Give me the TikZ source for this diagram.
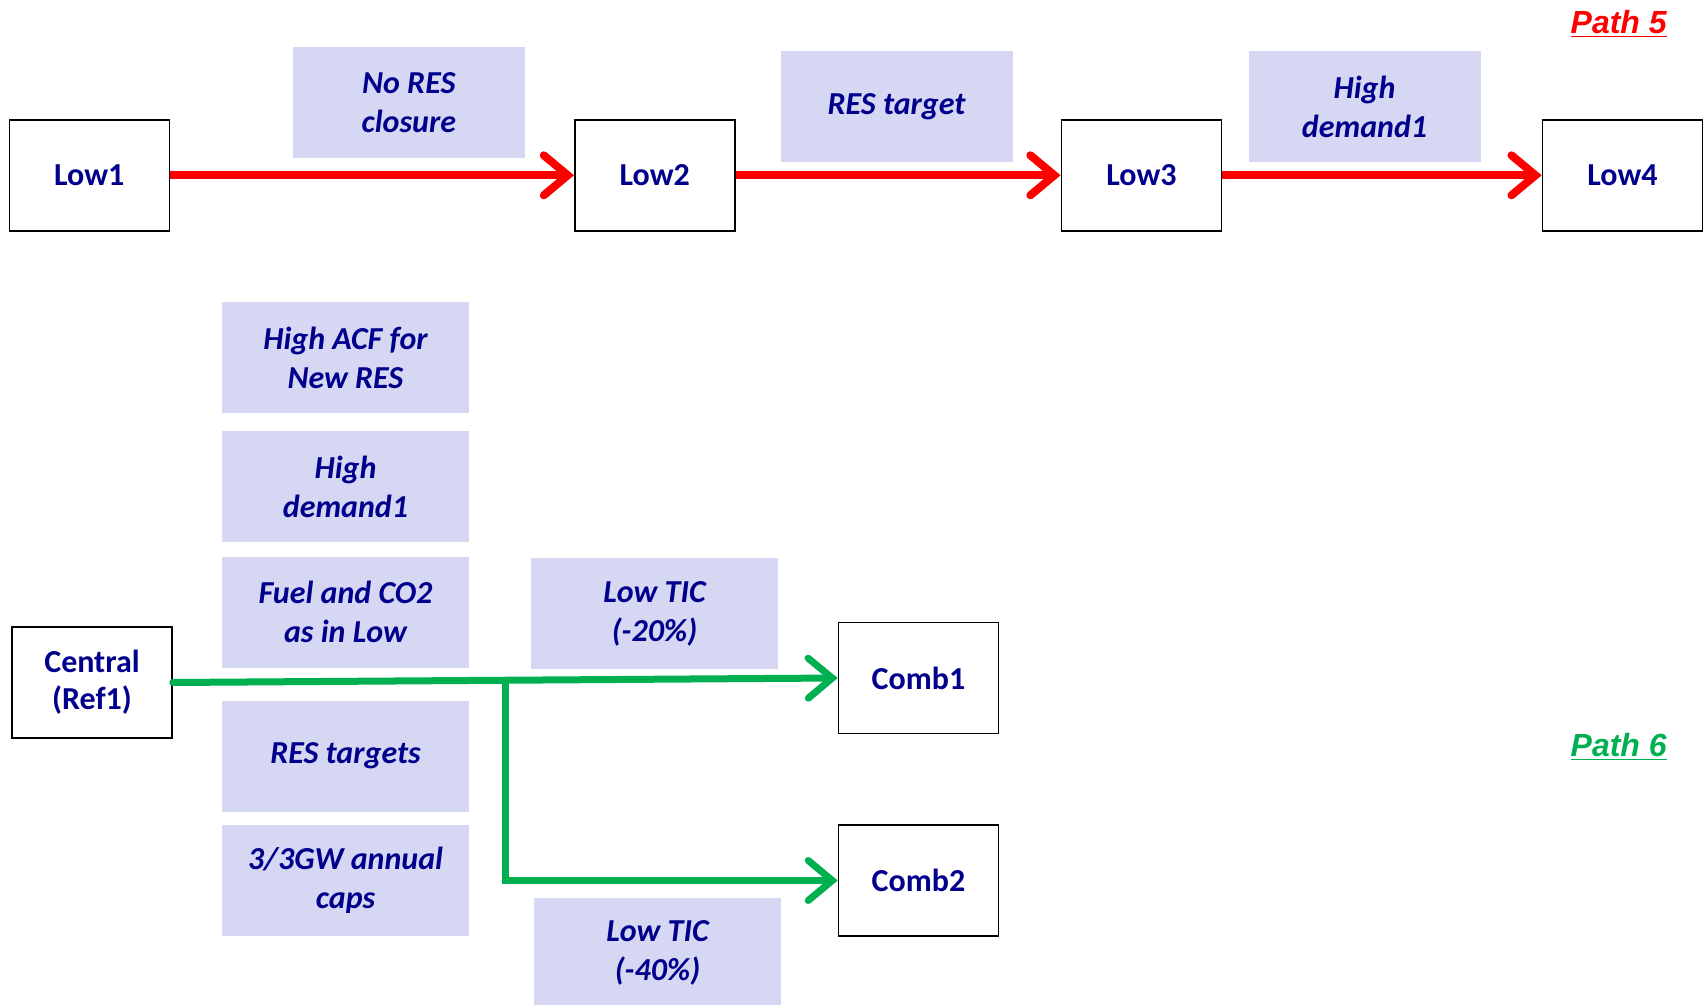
\documentclass[tikz,border=0pt]{standalone}
\usepackage{fontspec}
\setmainfont{Carlito}
\newfontfamily\pathfont{Liberation Sans}
\usepackage{xcolor}
\usepackage{tikz}
\usetikzlibrary{arrows.meta}

\definecolor{navytext}{RGB}{0,0,140}
\definecolor{lavender}{RGB}{214,216,243}
\definecolor{pathred}{RGB}{255,0,0}
\definecolor{pathgreen}{RGB}{0,176,80}

\tikzset{
  scenario/.style={draw=black, line width=0.8pt, fill=white, minimum width=80pt,
    minimum height=55.5pt, align=center, text=navytext,
    font=\fontsize{16}{18.5}\selectfont\bfseries},
  change/.style={fill=lavender, minimum width=116pt, minimum height=55.5pt,
    align=center, text=navytext, font=\fontsize{16}{19.5}\selectfont\bfseries\itshape},
  wide change/.style={change, minimum width=123.5pt},
  redpath/.style={pathred, line width=4pt,
    -{Straight Barb[length=12pt,width=20pt,line cap=round]}},
  greenpath/.style={pathgreen, line width=3.5pt, line cap=round,
    -{Straight Barb[length=12pt,width=20pt,line cap=round]}},
  pathlabel/.style={font=\pathfont\fontsize{16}{18}\selectfont\bfseries\itshape},
}

\begin{document}
\begin{tikzpicture}[x=0.5pt, y=-0.5pt]
   \useasboundingbox (0,0) rectangle (1707,1005);

   % Path 5: the Low chain
   \node[scenario] (low1) at (89.3,175.3) {Low1};
   \node[scenario] (low2) at (654.8,175.3) {Low2};
   \node[scenario] (low3) at (1141.4,175.3) {Low3};
   \node[scenario] (low4) at (1622.5,175.3) {Low4};

   \node[change] (noresclosure) at (408.8,102.3) {No RES\\closure};
   \node[change] (restarget) at (896.5,106.7) {RES target};
   \node[change] (highdemandtop) at (1364.5,106.7) {High\\demand1};

   \draw[redpath] (low1) -- (low2);
   \draw[redpath] (low2) -- (low3);
   \draw[redpath] (low3) -- (low4);

   \node[pathlabel, text=pathred] (pathfive) at (1618.7,24) {\underline{Path 5}};

   % Path 6: combined cases from Central
   \node[wide change] (highacf) at (345.5,357.6) {High ACF for\\New RES};
   \node[wide change] (highdemand) at (345.5,486.5) {High\\demand1};
   \node[wide change] (fuelco) at (345.5,612) {Fuel and CO2\\as in Low};
   \node[wide change] (restargets) at (345.5,756) {RES targets};
   \node[wide change] (caps) at (345.5,880) {3/3GW annual\\caps};

   \node[wide change] (lowtictwenty) at (654.5,613.5) {Low TIC\\(-20\%)};
   \node[wide change] (lowticforty) at (657.5,953) {Low TIC\\(-40\%)};

   \node[scenario] (central) at (92,682.5) {Central\\(Ref1)};
   \node[scenario] (combone) at (918.5,678) {Comb1};
   \node[scenario] (combtwo) at (918.5,880.5) {Comb2};

   \draw[greenpath] (central.east) -- coordinate[pos=0.5] (split) (combone.west);
   \draw[greenpath] (split) |- (combtwo.west);

   \node[pathlabel, text=pathgreen] (pathsix) at (1618.7,747) {\underline{Path 6}};
\end{tikzpicture}
\end{document}
